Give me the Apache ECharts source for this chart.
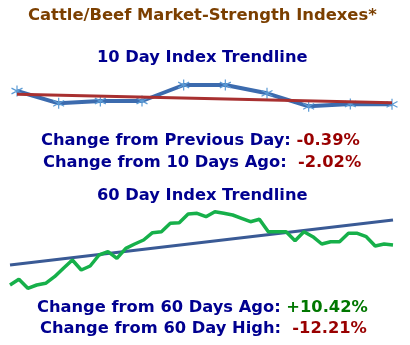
<!DOCTYPE html>
<html><head><meta charset="utf-8">
<script src="https://cdn.jsdelivr.net/npm/echarts@6/dist/echarts.min.js"></script>
<style>html,body{margin:0;padding:0;background:#fff}#c{width:410px;height:345px}</style>
</head><body><div id="c"></div>
<script>
// 10 day index (relative units)
const tenDayValues = [29, 16.7, 19, 19, 35, 35, 26.7, 13.7, 16, 15.7];
const tenDayTrend = [25.7, 17.3]; // first, last
// 60 day index (trading days)
const sixtyDayValues = [15, 20.7, 11.7, 15, 16.7, 23.3, 31.7, 40, 30, 34, 45, 48.3, 41.7, 51.7, 56, 60, 67.3, 68.3, 76.7, 77.3, 86, 86.7, 83.3, 88.3, 86.7, 85, 81.7, 78.3, 80.7, 68.3, 68.3, 68.3, 59.3, 68.3, 63.3, 56, 58.3, 58.3, 66.7, 66.7, 63.3, 54, 56, 55];
const sixtyDayTrend = [35, 80];

const titleText = 'Cattle/Beef Market-Strength Indexes*';
const tenTitle = '10 Day Index Trendline';
const sixtyTitle = '60 Day Index Trendline';
const stats = [
  ['Change from Previous Day: ', '-0.39%', 'neg'],
  ['Change from 10 Days Ago:  ', '-2.02%', 'neg'],
  ['Change from 60 Days Ago: ', '+10.42%', 'pos'],
  ['Change from 60 Day High:  ', '-12.21%', 'neg']
];

function trendSeries(vals, n) {
  const d = new Array(n).fill(null);
  d[0] = vals[0]; d[n - 1] = vals[1];
  return d;
}
const idx10 = tenDayValues.map((_, i) => i);
const idx60 = sixtyDayValues.map((_, i) => i);

const font = 'DejaVu Sans';
const fs = 16.3;
function statText(s, x, y) {
  return {
    type: 'text', left: x, top: y,
    style: {
      text: '{a|' + s[0].replace(/ /g, '\u00a0') + '}{' + s[2] + '|' + s[1] + '}',
      rich: {
        a: {fontFamily: font, fontWeight: 'bold', fontSize: fs, fill: '#000090'},
        neg: {fontFamily: font, fontWeight: 'bold', fontSize: fs, fill: '#990000'},
        pos: {fontFamily: font, fontWeight: 'bold', fontSize: fs, fill: '#007700'}
      }
    }
  };
}

const star = 'path://M0,-5L0,5M-4.5,-2.6L4.5,2.6M-4.5,2.6L4.5,-2.6';

const chart = echarts.init(document.getElementById('c'));
chart.setOption({
  animation: false,
  backgroundColor: '#fff',
  grid: [
    {left: 17, right: 18, top: 80, height: 30},
    {left: 10, right: 17, top: 205, height: 90}
  ],
  xAxis: [
    {type: 'category', gridIndex: 0, data: idx10, boundaryGap: false, show: false},
    {type: 'category', gridIndex: 1, data: idx60, boundaryGap: false, show: false}
  ],
  yAxis: [
    {type: 'value', gridIndex: 0, min: 10, max: 40, show: false},
    {type: 'value', gridIndex: 1, min: 5, max: 95, show: false}
  ],
  graphic: [
    {type: 'text', left: 28, top: 7.5, style: {text: titleText, fontFamily: font, fontWeight: 'bold', fontSize: 16.4, fill: '#7B3F00'}},
    {type: 'text', left: 97, top: 50, style: {text: tenTitle, fontFamily: font, fontWeight: 'bold', fontSize: fs, fill: '#000090'}},
    statText(stats[0], 41, 133),
    statText(stats[1], 43, 154.5),
    {type: 'text', left: 97, top: 188, style: {text: sixtyTitle, fontFamily: font, fontWeight: 'bold', fontSize: fs, fill: '#000090'}},
    statText(stats[2], 37, 299.5),
    statText(stats[3], 40, 321)
  ],
  series: [
    {type: 'line', xAxisIndex: 0, yAxisIndex: 0, data: tenDayValues,
     lineStyle: {color: '#3C6BAE', width: 4}, symbol: star, symbolSize: 11,
     itemStyle: {color: 'rgba(0,0,0,0)', borderColor: '#5B9BD5', borderWidth: 1.2}, z: 2},
    {type: 'line', xAxisIndex: 0, yAxisIndex: 0, data: trendSeries(tenDayTrend, tenDayValues.length),
     connectNulls: true, showSymbol: false, lineStyle: {color: '#A83030', width: 3}, z: 3},
    {type: 'line', xAxisIndex: 1, yAxisIndex: 1, data: trendSeries(sixtyDayTrend, sixtyDayValues.length),
     connectNulls: true, showSymbol: false, lineStyle: {color: '#3A5A95', width: 3}, z: 2},
    {type: 'line', xAxisIndex: 1, yAxisIndex: 1, data: sixtyDayValues,
     showSymbol: false, lineStyle: {color: '#16B04A', width: 3.5}, z: 3}
  ]
});
</script></body></html>
